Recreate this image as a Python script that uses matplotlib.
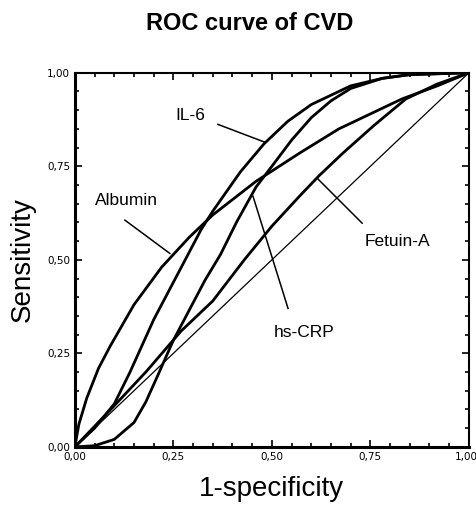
import matplotlib
matplotlib.use("Agg")
import matplotlib.pyplot as plt
from matplotlib.ticker import MultipleLocator, FuncFormatter

# values (1-specificity, sensitivity)
albumin_x = [0, 0.01, 0.03, 0.06, 0.09, 0.15, 0.22, 0.29, 0.35, 0.46, 0.57, 0.67, 0.75, 0.83, 0.92, 1.0]
albumin_y = [0, 0.06, 0.13, 0.21, 0.27, 0.38, 0.48, 0.56, 0.62, 0.71, 0.785, 0.85, 0.89, 0.93, 0.965, 1.0]

il6_x = [0, 0.05, 0.10, 0.14, 0.20, 0.25, 0.29, 0.32, 0.35, 0.42, 0.48, 0.54, 0.60, 0.70, 0.78, 0.85, 1.0]
il6_y = [0, 0.05, 0.115, 0.20, 0.34, 0.44, 0.52, 0.58, 0.63, 0.735, 0.81, 0.87, 0.915, 0.965, 0.985, 0.995, 1.0]

crp_x = [0, 0.05, 0.10, 0.15, 0.18, 0.21, 0.25, 0.28, 0.33, 0.37, 0.41, 0.46, 0.50, 0.55, 0.60, 0.65, 0.70, 0.78, 0.85, 1.0]
crp_y = [0, 0.003, 0.02, 0.065, 0.12, 0.19, 0.285, 0.345, 0.445, 0.515, 0.60, 0.695, 0.75, 0.82, 0.88, 0.925, 0.958, 0.985, 0.995, 1.0]

fetuin_x = [0, 0.05, 0.10, 0.18, 0.27, 0.35, 0.43, 0.50, 0.57, 0.62, 0.68, 0.76, 0.84, 0.92, 1.0]
fetuin_y = [0, 0.055, 0.11, 0.20, 0.31, 0.39, 0.50, 0.59, 0.67, 0.725, 0.785, 0.86, 0.93, 0.97, 1.0]

ref_x = [0, 1]
ref_y = [0, 1]

# label text position, arrow tail, arrow head (data units)
labels = ["IL-6", "Albumin", "hs-CRP", "Fetuin-A"]
label_pos = [(0.292, 0.887), (0.132, 0.659), (0.582, 0.306), (0.818, 0.55)]
line_from = [(0.363, 0.862), (0.127, 0.606), (0.541, 0.37), (0.729, 0.598)]
line_to = [(0.483, 0.814), (0.241, 0.517), (0.452, 0.67), (0.615, 0.718)]

fig = plt.figure(figsize=(4.77, 5.16), dpi=100)
ax = fig.add_axes([0.157, 0.134, 0.826, 0.725])

for xs, ys in [(albumin_x, albumin_y), (il6_x, il6_y), (crp_x, crp_y), (fetuin_x, fetuin_y)]:
    ax.plot(xs, ys, color="black", lw=2.0, solid_joinstyle="round")
ax.plot(ref_x, ref_y, color="black", lw=0.9)

for txt, pos, a, b in zip(labels, label_pos, line_from, line_to):
    ax.plot([a[0], b[0]], [a[1], b[1]], color="black", lw=1.1)
    ax.text(pos[0], pos[1], txt, ha="center", va="center", fontsize=12.5,
            family=["Liberation Sans", "DejaVu Sans"])

ax.set_xlim(0, 1)
ax.set_ylim(0, 1)
ax.xaxis.set_major_locator(MultipleLocator(0.25))
ax.yaxis.set_major_locator(MultipleLocator(0.25))
ax.xaxis.set_minor_locator(MultipleLocator(0.05))
ax.yaxis.set_minor_locator(MultipleLocator(0.05))
fmt = FuncFormatter(lambda v, p: ("%.2f" % v).replace(".", ","))
# the 1,00 on x sits at the figure edge, it is drawn separately below
xfmt = FuncFormatter(lambda v, p: "" if v > 0.99 else ("%.2f" % v).replace(".", ","))
ax.xaxis.set_major_formatter(xfmt)
ax.yaxis.set_major_formatter(fmt)
ax.tick_params(which="both", direction="in", top=True, right=True, width=1.2)
ax.tick_params(which="major", length=5, labelsize=7.5)
ax.tick_params(which="minor", length=3)
ax.annotate("1,00", xy=(1, 0), xycoords="axes fraction", xytext=(-2, -4),
            textcoords="offset points", ha="center", va="top", fontsize=7.5)
for side in ["left", "bottom"]:
    ax.spines[side].set_linewidth(2.2)
for side in ["top", "right"]:
    ax.spines[side].set_linewidth(1.5)

ax.set_xlabel("1-specificity", fontsize=20, family=["Liberation Sans", "DejaVu Sans"], labelpad=10)
ax.set_ylabel("Sensitivity", fontsize=20, family=["Liberation Sans", "DejaVu Sans"], labelpad=8)
fig.text(0.524, 0.955, "ROC curve of CVD", ha="center", va="center", fontsize=17,
         fontweight="bold", family=["Liberation Sans", "DejaVu Sans"])

fig.savefig("out.png", dpi=100)
